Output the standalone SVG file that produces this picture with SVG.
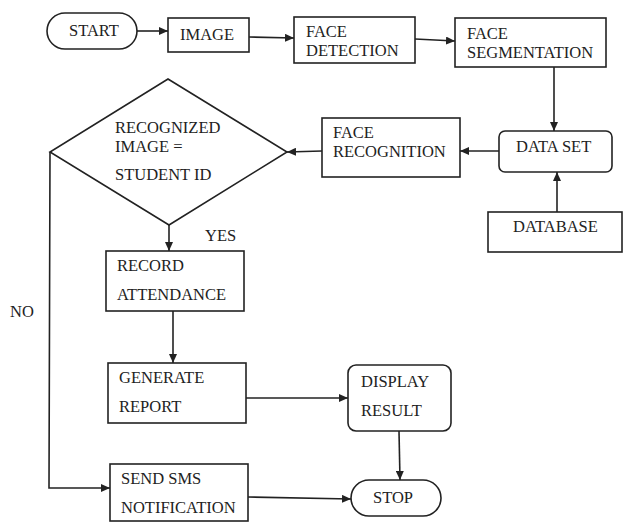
<svg xmlns="http://www.w3.org/2000/svg" width="624" height="523" viewBox="0 0 624 523">
<style>
.n{fill:#fff;stroke:#222;stroke-width:1.6}
.t{font-family:'Liberation Serif','DejaVu Serif','Times New Roman',serif;font-size:16.5px;fill:#222}
.c{fill:none;stroke:#222;stroke-width:1.6}
</style>
<defs>
<marker id="ah" markerUnits="userSpaceOnUse" markerWidth="10" markerHeight="8" refX="9" refY="4" orient="auto">
<path d="M0,0 L9,4 L0,8 Z" fill="#222"/>
</marker>
</defs>
<rect width="624" height="523" fill="#fff"/>
<g id="connectors">
<path class="c" d="M137,31 L168,31" marker-end="url(#ah)"/>
<path class="c" d="M249,37 L294,38" marker-end="url(#ah)"/>
<path class="c" d="M415,39 L455,41" marker-end="url(#ah)"/>
<path class="c" d="M554,67 L554,131" marker-end="url(#ah)"/>
<path class="c" d="M499,151 L460,151" marker-end="url(#ah)"/>
<path class="c" d="M322,151 L287,152" marker-end="url(#ah)"/>
<path class="c" d="M557,212 L557,172" marker-end="url(#ah)"/>
<path class="c" d="M169,225 L169,251" marker-end="url(#ah)"/>
<path class="c" d="M50,152 L49,488 L110,488" marker-end="url(#ah)"/>
<path class="c" d="M173,311 L173,363" marker-end="url(#ah)"/>
<path class="c" d="M246,398 L348,398" marker-end="url(#ah)"/>
<path class="c" d="M399,431 L400,480" marker-end="url(#ah)"/>
<path class="c" d="M248,497 L351,499" marker-end="url(#ah)"/>
<text class="t" x="205" y="241">YES</text>
<text class="t" x="10" y="317">NO</text>
</g>
<g id="start"><rect class="n" x="47" y="13" width="90" height="36" rx="18"/><text class="t" x="69" y="36">START</text></g>
<g id="image"><rect class="n" x="168" y="18" width="81" height="34"/><text class="t" x="180" y="40">IMAGE</text></g>
<g id="face-detection"><rect class="n" x="294" y="17" width="121" height="46"/><text class="t" x="306" y="37">FACE</text><text class="t" x="306" y="56">DETECTION</text></g>
<g id="face-segmentation"><rect class="n" x="455" y="18" width="151" height="49"/><text class="t" x="467" y="39">FACE</text><text class="t" x="467" y="58">SEGMENTATION</text></g>
<g id="data-set"><rect class="n" x="499" y="131" width="113" height="41" rx="6"/><text class="t" x="516" y="152">DATA SET</text></g>
<g id="database"><rect class="n" x="488" y="212" width="134" height="40"/><text class="t" x="513" y="232">DATABASE</text></g>
<g id="face-recognition"><rect class="n" x="322" y="118" width="138" height="59"/><text class="t" x="333" y="138">FACE</text><text class="t" x="333" y="157">RECOGNITION</text></g>
<g id="decision"><polygon class="n" points="168,79 287,152 169,225 50,152"/><text class="t" x="115" y="133">RECOGNIZED</text><text class="t" x="115" y="152">IMAGE =</text><text class="t" x="115" y="180">STUDENT ID</text></g>
<g id="record-attendance"><rect class="n" x="106" y="251" width="138" height="60"/><text class="t" x="117" y="271">RECORD</text><text class="t" x="117" y="300">ATTENDANCE</text></g>
<g id="generate-report"><rect class="n" x="108" y="363" width="138" height="60"/><text class="t" x="119" y="383">GENERATE</text><text class="t" x="119" y="412">REPORT</text></g>
<g id="display-result"><rect class="n" x="348" y="365" width="103" height="66" rx="8"/><text class="t" x="361" y="387">DISPLAY</text><text class="t" x="361" y="416">RESULT</text></g>
<g id="send-sms"><rect class="n" x="110" y="464" width="138" height="57"/><text class="t" x="121" y="484">SEND SMS</text><text class="t" x="121" y="513">NOTIFICATION</text></g>
<g id="stop"><rect class="n" x="351" y="480" width="90" height="36" rx="18"/><text class="t" x="373" y="503">STOP</text></g>
</svg>
